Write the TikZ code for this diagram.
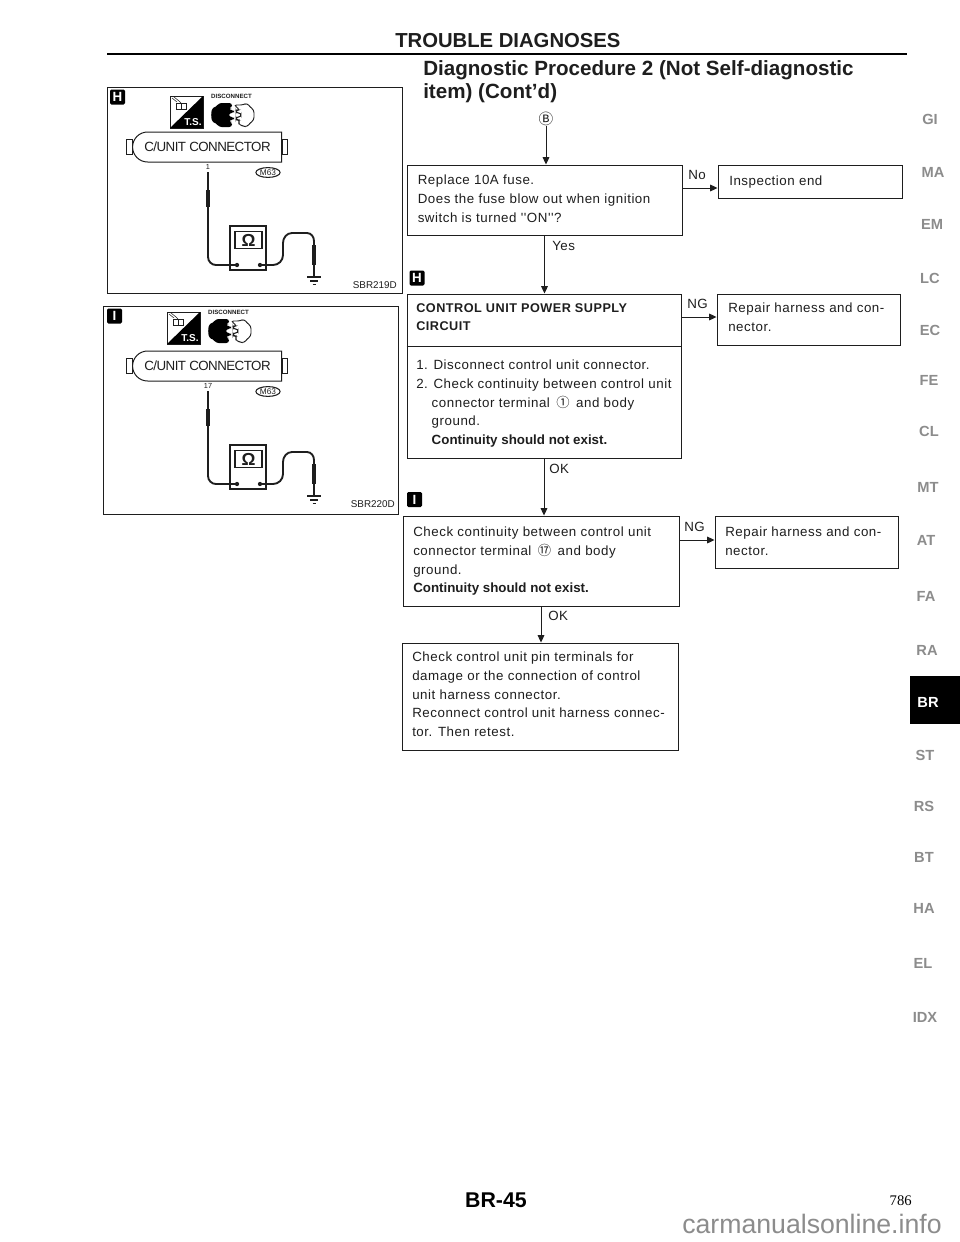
\documentclass[tikz,border=0pt]{standalone}
\usepackage{fontspec}
\setmainfont{Liberation Sans}
\newfontfamily\bodyf[LetterSpace=4]{Liberation Sans}
\newfontfamily\capf{Liberation Sans}
\newfontfamily\pillf[LetterSpace=-4]{Liberation Sans}
\newfontfamily\circf{Noto Sans CJK SC}
\newfontfamily\timesf{Liberation Serif}
\usetikzlibrary{arrows.meta,shapes.misc,shapes.geometric}
\definecolor{ink}{HTML}{1E1E1E}
\definecolor{tabgray}{HTML}{8C8C8C}
\newcommand{\warn}[1]{{\capf\bfseries #1}}
\tikzset{
  wh/.style 2 args={minimum width=#1*0.75pt,minimum height=#2*0.75pt},
  flow/.style={draw=ink,line width=0.7pt,rectangle,inner sep=0pt},
  body/.style={inner sep=0pt,anchor=north west,align=left,text=ink,
    font=\bodyf\fontsize{10}{14}\selectfont,execute at begin node=\strut},
  lab/.style={inner sep=0pt,anchor=base west,text=ink,font=\bodyf\fontsize{10}{14}\selectfont},
  arr/.style={draw=ink,line width=0.7pt,-{Triangle[length=5.5pt,width=5pt]}},
  tag/.style={fill=black,text=white,inner sep=0pt,wh={15}{15},rounded corners=1pt,font=\capf\bfseries\fontsize{10}{10}\selectfont},
  side/.style={inner sep=0pt,text=tabgray,font=\capf\bfseries\fontsize{11}{12}\selectfont},
  wire/.style={draw=ink,line width=1.4pt},
  probe/.style={draw=ink,line width=3.2pt},
  frame/.style={draw=ink,line width=0.65pt},
}
\newcommand{\meterpanel}[6]{%
  \begin{scope}[yshift=#4*-0.75pt]
    \node[draw=ink,line width=0.75pt,rounded rectangle,rounded rectangle east arc=none,inner sep=0pt,wh={149}{30},
      font=\pillf\fontsize{10}{12}\selectfont,text=ink] (#1pill) at (207.5,147) {C/UNIT CONNECTOR};
    \node[draw=ink,line width=0.7pt,inner sep=0pt,wh={6}{15}] (#1tabl) at (129,147) {};
    \node[draw=ink,line width=0.7pt,inner sep=0pt,wh={5}{15}] (#1tabr) at (284.5,147) {};
    \node[inner sep=0pt,font=\capf\fontsize{5.5}{6}\selectfont,text=ink] (#1pin) at (208,#6) {#2};
    \node[draw=ink,line width=0.8pt,ellipse,inner sep=0.4pt,font=\capf\fontsize{6.2}{7}\selectfont,text=ink] (#1part) at (268,172.5) {M63};
    \node[draw=ink,line width=0.9pt,inner sep=0pt,wh={36}{44}] (#1meter) at (248,248) {};
    \node[draw=ink,line width=0.8pt,inner sep=0pt,wh={27}{17},font=\capf\bfseries\fontsize{13}{13}\selectfont,text=ink] (#1screen) at (248.5,240) {Ω};
    \fill[ink] (237,265) circle (1.6pt) (260,265) circle (1.6pt);
    \coordinate (#1pa) at (208,172);
    \coordinate (#1pb) at (237,265);
    \coordinate (#1pc) at (260,265);
    \coordinate (#1gnd) at (314,277);
    \draw[wire] (#1pa) -- (208,257) to[out=-90,in=180] (216,265) -- (#1pb);
    \draw[probe] (208,190) -- (208,207);
    \draw[wire] (#1pc) -- (273,265) to[out=0,in=-90] (283,255) -- (283,243) to[out=90,in=180] (292,233)
       -- (307,233) to[out=0,in=90] (314,241) -- (#1gnd);
    \draw[probe] (314,245) -- (314,265);
    \draw[ink,line width=0.9pt] (307,277) -- (321,277) (310,281) -- (318,281) (312.5,284.5) -- (315.5,284.5);
    \node[inner sep=0pt,anchor=base east,font=\capf\fontsize{7.4}{9}\selectfont,text=ink] (#1code) at (#5,288) {#3};
  \end{scope}}
\newcommand{\testicon}[3]{%
  \begin{scope}[xshift=#2*0.75pt,yshift=#3*-0.75pt]
    \draw[ink,line width=0.7pt] (170,96) rectangle (203,128);
    \fill[black] (203,96) -- (203,128) -- (170,128) -- cycle;
    \draw[ink,line width=0.5pt] (176,103) rectangle (181,109) (181,103) rectangle (186,109);
    \draw[ink,line width=0.4pt] (172,98) -- (177,102) (174,97) -- (179,101) (178,100) -- (181,103);
    \node[inner sep=0pt,text=white,font=\capf\bfseries\fontsize{7.5}{8}\selectfont] (#1ts) at (193,122) {T.S.};
    \node[inner sep=0pt,text=ink,font=\capf\bfseries\fontsize{4.6}{5}\selectfont] (#1disc) at (231.5,96.5) {DISCONNECT};
    \fill[black,rounded corners=2pt] (232,103) -- (219,103) -- (216,107) -- (212,108) -- (211,115) -- (212,122) -- (216,123) -- (219,127) -- (232,127) -- (232,122) -- (229,122) -- (229,120) -- (234,120) -- (234,117) -- (229,117) -- (229,113) -- (234,113) -- (234,110) -- (229,110) -- (229,108) -- (232,108) -- cycle;
    \draw[ink,line width=0.7pt,fill=white,rounded corners=2pt] (234,105) -- (243,105) -- (247,103) -- (250,107) -- (254,110) -- (254,120) -- (250,123) -- (247,127) -- (243,126) -- (238,124) -- (240,120) -- (236,120) -- (236,117) -- (241,117) -- (241,113) -- (236,113) -- (236,110) -- (240,110) -- cycle;
  \end{scope}}
\begin{document}
\begin{tikzpicture}[x=0.75pt,y=-0.75pt]
\useasboundingbox (0,0) rectangle (960,1242);
\fill[white] (0,0) rectangle (960,1242);
\coordinate (rulea) at (107,54);
\coordinate (ruleb) at (907,54);
\draw[black,line width=2pt] (rulea) -- (ruleb);
\node[inner sep=0pt,anchor=base west,text=ink,font=\capf\bfseries\fontsize{15.2}{16}\selectfont] (head) at (395,47) {TROUBLE DIAGNOSES};
\node[inner sep=0pt,anchor=base west,text=ink,font=\capf\bfseries\fontsize{15.45}{17}\selectfont] (title1) at (423,75) {Diagnostic Procedure 2 (Not Self-diagnostic};
\node[inner sep=0pt,anchor=base west,text=ink,font=\capf\bfseries\fontsize{15.45}{17}\selectfont] (title2) at (423,98) {item) (Cont’d)};
\draw[frame] (107,87) rectangle (402,293);
\draw[frame] (103,306) rectangle (398,514);
\node[tag] (tagH1) at (117.5,97) {H};
\node[tag] (tagI1) at (114.5,316) {I};
\testicon{a}{0}{0}
\testicon{b}{-3}{216}
\meterpanel{a}{1}{SBR219D}{0}{397}{167}
\meterpanel{b}{17}{SBR220D}{219}{395}{167}
\node[inner sep=0pt,font=\circf\fontsize{11}{12}\selectfont,text=ink] (bB) at (546,119) {Ⓑ};
\node[flow,wh={275}{70}] (box1) at (544.5,200) {};
\node[flow,wh={184}{33}] (insp) at (810,181.5) {};
\node[flow,wh={274}{164}] (box2) at (544,376) {};
\node[flow,wh={183}{51}] (rep1) at (808.5,319.5) {};
\node[flow,wh={276}{90}] (box3) at (541,561) {};
\node[flow,wh={183}{52}] (rep2) at (806.5,542) {};
\node[flow,wh={276}{107}] (box4) at (540,696.5) {};
\draw[ink,line width=0.75pt] (box2.west |- 0,346) -- (box2.east |- 0,346);
\node[body] (t1) at (417.5,175) {Replace 10A fuse.\\Does the fuse blow out when ignition\\switch is turned ''ON''?};
\node[body] (t2) at (729,172) {Inspection end};
\node[body,font=\bodyf\bfseries\fontsize{9.5}{14}\selectfont] (t3) at (416,303) {CONTROL UNIT POWER SUPPLY\\CIRCUIT};
\node[body] (t4) at (416,360) {1. Disconnect control unit connector.\\2. Check continuity between control unit\\\hspace*{11.6pt}connector terminal \,{\circf ①}\, and body\\\hspace*{11.6pt}ground.\\\hspace*{11.6pt}\warn{Continuity should not exist.}};
\node[body] (t5) at (728,303) {Repair harness and con-\\nector.};
\node[body] (t6) at (413,527) {Check continuity between control unit\\connector terminal \,{\circf ⑰}\, and body\\ground.\\\warn{Continuity should not exist.}};
\node[body] (t7) at (725,527) {Repair harness and con-\\nector.};
\node[body] (t8) at (412,652) {Check control unit pin terminals for\\damage or the connection of control\\unit harness connector.\\Reconnect control unit harness connec-\\tor. Then retest.};
\coordinate (yno) at (0,188);
\coordinate (yng) at (0,317);
\coordinate (yng2) at (0,540);
\draw[arr] (bB.south) -- (bB.south |- box1.north);
\draw[arr] (box1.south) -- (box1.south |- box2.north);
\draw[arr] (box2.south) -- (box2.south |- box3.north);
\draw[arr] (box3.south) -- (box3.south |- box4.north);
\draw[arr] (box1.east |- yno) -- (insp.west |- yno);
\draw[arr] (box2.east |- yng) -- (rep1.west |- yng);
\draw[arr] (box3.east |- yng2) -- (rep2.west |- yng2);
\node[lab] (lno) at (688,179) {No};
\node[lab] (lyes) at (552,250) {Yes};
\node[lab] (lng1) at (687,308) {NG};
\node[lab] (lok1) at (549,473) {OK};
\node[lab] (lng2) at (684,531) {NG};
\node[lab] (lok2) at (548,620) {OK};
\node[tag] (tagH2) at (417,278) {H};
\node[tag] (tagI2) at (414.5,499.5) {I};
\fill[black] (910,676) rectangle (960,724);
\node[side] (gi) at (930,119) {GI};
\node[side] (ma) at (933,172) {MA};
\node[side] (em) at (932,224) {EM};
\node[side] (lc) at (930,278) {LC};
\node[side] (ec) at (930,330) {EC};
\node[side] (fe) at (929,380) {FE};
\node[side] (cl) at (929,431) {CL};
\node[side] (mt) at (928,487) {MT};
\node[side] (at) at (926,540) {AT};
\node[side] (fa) at (926,596) {FA};
\node[side] (ra) at (927,650) {RA};
\node[side,text=white] (br) at (928,702) {BR};
\node[side] (st) at (925,755) {ST};
\node[side] (rs) at (924,806) {RS};
\node[side] (bt) at (924,857) {BT};
\node[side] (ha) at (924,908) {HA};
\node[side] (el) at (923,963) {EL};
\node[side] (idx) at (925,1017) {IDX};
\node[inner sep=0pt,anchor=base,text=black,font=\capf\bfseries\fontsize{16}{17}\selectfont] (page) at (496,1207) {BR-45};
\node[inner sep=0pt,anchor=base east,text=black,font=\timesf\fontsize{11}{12}\selectfont] (num) at (912,1205) {786};
\node[inner sep=0pt,anchor=base west,text=black!45,font=\capf\fontsize{20}{24}\selectfont] (mark) at (682,1233) {carmanualsonline.info};
\end{tikzpicture}
\end{document}
